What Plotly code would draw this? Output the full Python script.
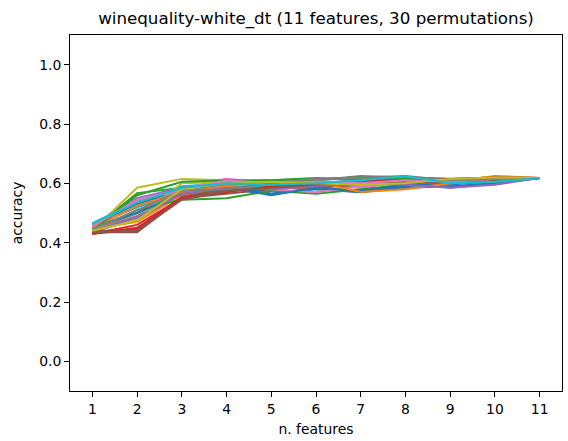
import plotly.graph_objects as go

n_features = [1, 2, 3, 4, 5, 6, 7, 8, 9, 10, 11]

perm_01 = [0.455, 0.520, 0.570, 0.590, 0.565, 0.585, 0.575, 0.590, 0.600, 0.605, 0.618]
perm_02 = [0.440, 0.500, 0.575, 0.600, 0.590, 0.580, 0.571, 0.600, 0.605, 0.625, 0.618]
perm_03 = [0.445, 0.567, 0.585, 0.600, 0.610, 0.618, 0.610, 0.620, 0.615, 0.610, 0.618]
perm_04 = [0.430, 0.445, 0.555, 0.575, 0.590, 0.600, 0.605, 0.595, 0.610, 0.615, 0.618]
perm_05 = [0.435, 0.480, 0.560, 0.580, 0.595, 0.600, 0.610, 0.600, 0.585, 0.600, 0.618]
perm_06 = [0.435, 0.435, 0.550, 0.565, 0.580, 0.590, 0.600, 0.600, 0.605, 0.610, 0.618]
perm_07 = [0.450, 0.530, 0.580, 0.615, 0.600, 0.595, 0.585, 0.605, 0.600, 0.620, 0.618]
perm_08 = [0.440, 0.490, 0.565, 0.575, 0.585, 0.610, 0.620, 0.615, 0.610, 0.605, 0.618]
perm_09 = [0.440, 0.585, 0.615, 0.610, 0.600, 0.605, 0.600, 0.605, 0.610, 0.615, 0.618]
perm_10 = [0.465, 0.540, 0.590, 0.600, 0.595, 0.600, 0.605, 0.624, 0.600, 0.605, 0.618]
perm_11 = [0.460, 0.530, 0.580, 0.595, 0.565, 0.580, 0.570, 0.585, 0.590, 0.600, 0.618]
perm_12 = [0.445, 0.470, 0.560, 0.580, 0.595, 0.590, 0.600, 0.610, 0.615, 0.620, 0.618]
perm_13 = [0.440, 0.510, 0.545, 0.550, 0.575, 0.565, 0.580, 0.595, 0.600, 0.605, 0.618]
perm_14 = [0.430, 0.460, 0.550, 0.575, 0.585, 0.595, 0.610, 0.615, 0.605, 0.610, 0.618]
perm_15 = [0.450, 0.550, 0.585, 0.600, 0.580, 0.590, 0.600, 0.600, 0.610, 0.615, 0.618]
perm_16 = [0.440, 0.440, 0.555, 0.580, 0.590, 0.585, 0.595, 0.605, 0.600, 0.610, 0.618]
perm_17 = [0.455, 0.545, 0.580, 0.615, 0.580, 0.570, 0.590, 0.600, 0.605, 0.610, 0.618]
perm_18 = [0.445, 0.500, 0.570, 0.595, 0.600, 0.610, 0.625, 0.620, 0.615, 0.610, 0.618]
perm_19 = [0.445, 0.480, 0.600, 0.605, 0.610, 0.600, 0.595, 0.610, 0.615, 0.620, 0.618]
perm_20 = [0.460, 0.520, 0.575, 0.585, 0.590, 0.595, 0.600, 0.605, 0.610, 0.615, 0.618]
perm_21 = [0.455, 0.500, 0.565, 0.585, 0.560, 0.585, 0.575, 0.595, 0.595, 0.610, 0.618]
perm_22 = [0.450, 0.525, 0.570, 0.590, 0.600, 0.605, 0.571, 0.580, 0.600, 0.610, 0.618]
perm_23 = [0.440, 0.560, 0.605, 0.610, 0.610, 0.615, 0.620, 0.615, 0.610, 0.615, 0.618]
perm_24 = [0.430, 0.450, 0.550, 0.570, 0.590, 0.600, 0.605, 0.610, 0.615, 0.620, 0.618]
perm_25 = [0.440, 0.485, 0.565, 0.585, 0.580, 0.590, 0.600, 0.595, 0.585, 0.595, 0.618]
perm_26 = [0.435, 0.440, 0.545, 0.575, 0.585, 0.595, 0.605, 0.600, 0.605, 0.610, 0.618]
perm_27 = [0.455, 0.545, 0.575, 0.610, 0.600, 0.605, 0.600, 0.610, 0.605, 0.615, 0.618]
perm_28 = [0.445, 0.510, 0.575, 0.580, 0.600, 0.615, 0.620, 0.625, 0.610, 0.615, 0.618]
perm_29 = [0.440, 0.475, 0.580, 0.600, 0.605, 0.600, 0.595, 0.600, 0.615, 0.620, 0.618]
perm_30 = [0.465, 0.535, 0.585, 0.600, 0.595, 0.600, 0.610, 0.624, 0.600, 0.605, 0.618]

permutations = [
    perm_01, perm_02, perm_03, perm_04, perm_05, perm_06, perm_07, perm_08, perm_09, perm_10,
    perm_11, perm_12, perm_13, perm_14, perm_15, perm_16, perm_17, perm_18, perm_19, perm_20,
    perm_21, perm_22, perm_23, perm_24, perm_25, perm_26, perm_27, perm_28, perm_29, perm_30,
]

y_ticks = [0.0, 0.2, 0.4, 0.6, 0.8, 1.0]

colors = ["#1f77b4", "#ff7f0e", "#2ca02c", "#d62728", "#9467bd",
          "#8c564b", "#e377c2", "#7f7f7f", "#bcbd22", "#17becf"]

FONT = "DejaVu Sans"

fig = go.Figure()
for i, acc in enumerate(permutations):
    fig.add_trace(go.Scatter(
        x=n_features, y=acc, mode="lines",
        line=dict(color=colors[i % 10], width=2),
        showlegend=False, hoverinfo="skip",
    ))

axis_common = dict(
    showline=True, linecolor="black", linewidth=1, mirror=True,
    ticks="outside", ticklen=5, tickwidth=1, tickcolor="black",
    showgrid=False, zeroline=False,
    tickfont=dict(family=FONT, size=13.9, color="black"),
)

fig.update_layout(
    width=568, height=441,
    margin=dict(l=70, r=6, t=35, b=50),
    paper_bgcolor="white", plot_bgcolor="white",
    font=dict(family=FONT, color="black"),
    title=dict(
        text="winequality-white_dt (11 features, 30 permutations)",
        font=dict(family=FONT, size=16.7, color="black"),
        x=0.5, xref="paper", xanchor="center",
        y=1 - 18 / 441, yref="container", yanchor="middle",
    ),
    xaxis=dict(
        range=[0.5, 11.5], tickmode="array", tickvals=n_features,
        title=dict(text="n. features", font=dict(family=FONT, size=13.9, color="black"), standoff=8),
        **axis_common,
    ),
    yaxis=dict(
        range=[-0.1, 1.1], tickmode="array", tickvals=y_ticks,
        ticktext=[f"{v:.1f}" for v in y_ticks],
        title=dict(text="accuracy", font=dict(family=FONT, size=13.9, color="black"), standoff=13),
        **axis_common,
    ),
)

fig.write_html("out.html")
